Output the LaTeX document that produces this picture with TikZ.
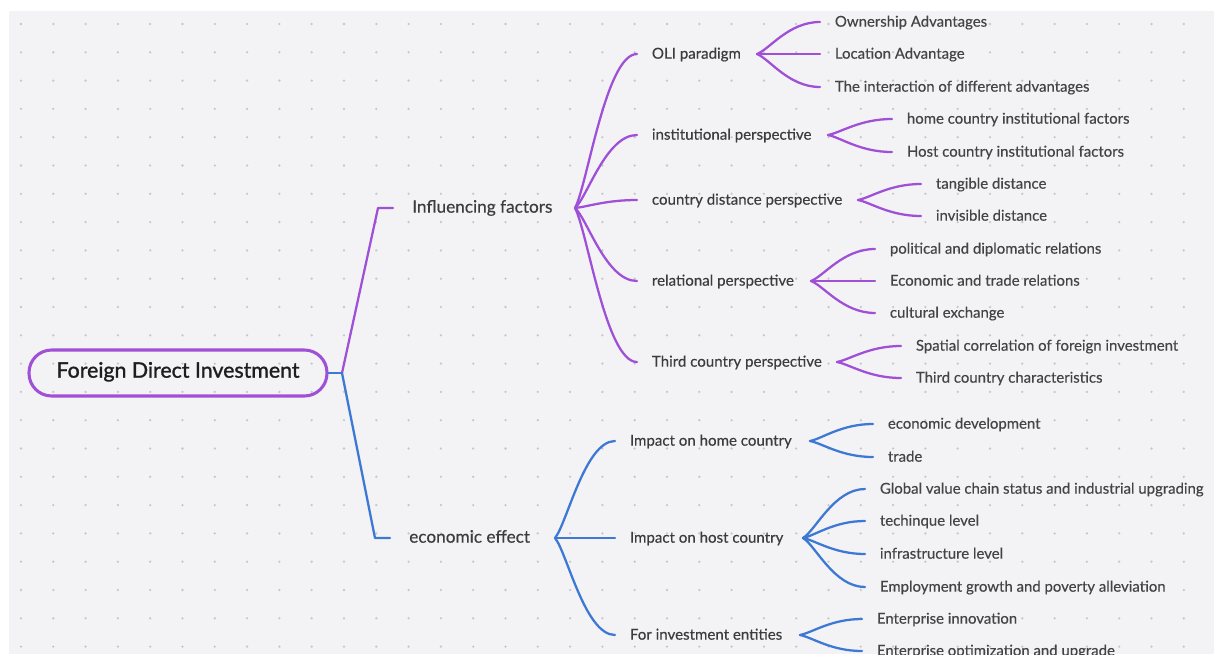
\documentclass[tikz,border=0pt]{standalone}
\usepackage{fontspec}
\setmainfont{Lato}[FakeBold=0.35]
\newfontfamily\rootfont{Lato}[FakeBold=1.3]
\usetikzlibrary{calc}
\definecolor{bgc}{HTML}{F3F3F6}
\definecolor{dotc}{HTML}{C6C6CC}
\definecolor{pur}{HTML}{A050D6}
\definecolor{blu}{HTML}{3D78D4}
\definecolor{txa}{HTML}{1E1E1E}
\definecolor{txb}{HTML}{3C3C3C}
\definecolor{txc}{HTML}{444444}
\begin{document}
\begin{tikzpicture}[x=0.75pt,y=-0.75pt,
  rootbox/.style={draw=pur,line width=2.3pt,rounded corners=17pt,minimum width=223.5pt,minimum height=34.5pt,inner sep=0pt,font=\rootfont\fontsize{16}{18}\selectfont,text=txa,text height=0.75em,text depth=0.05em},
  lvone/.style={anchor=west,inner xsep=14.25pt,inner ysep=0pt,font=\fontsize{12.9}{15}\selectfont,text=txb,text height=0.75em,text depth=0.05em},
  lvtwo/.style={anchor=west,inner xsep=11pt,inner ysep=0pt,font=\fontsize{11.3}{13}\selectfont,text=txb,text height=0.75em,text depth=0.05em},
  lvthree/.style={anchor=west,inner xsep=11pt,inner ysep=0pt,font=\fontsize{11.2}{13}\selectfont,text=txc,text height=0.75em,text depth=0.05em},
  pline/.style={draw=pur,line width=1.7pt,line cap=round,line join=round},
  bline/.style={draw=blu,line width=1.7pt,line cap=round,line join=round},
  fanc/.style={to path={let \p1=(\tikztostart), \p2=(\tikztotarget) in
     .. controls ({\x1+0.2*(\x2-\x1)},{\y1+0.15*(\y2-\y1)}) and ({\x2-0.5*(\x2-\x1)},\y2) .. (\tikztotarget)}}
]
\useasboundingbox (0,0) rectangle (1214,654);
\clip (0,0) rectangle (1214,654);
\fill[white] (0,0) rectangle (1214,654);
\fill[bgc] (9,11) rectangle (1214,654);
\foreach \i in {0,...,37}{
  \foreach \j in {0,...,22}{
    \fill[dotc] ({21+32.3*\i},{24+28.3*\j}) circle (0.95pt);
  }
}
% root
\node[rootbox] (root) at (178,373) {Foreign Direct Investment};
\coordinate (j) at (342,373);
% level 1
\node[lvone] (inf) at (393,208) {Influencing factors};
\node[lvone] (eco) at (390,538) {economic effect};
\draw[bline] (root.east) -- (j);
\draw[pline] (j) -- ([xshift=-15*0.75pt]inf.west) -- (inf.west);
\draw[bline] (j) -- ([xshift=-15*0.75pt]eco.west) -- (eco.west);
% hubs level 1
\coordinate (hinf) at (575,208);
\coordinate (heco) at (555,538);
% level 2 purple
\node[lvtwo] (oli) at (637,54) {OLI paradigm};
\node[lvtwo] (ins) at (637,135) {institutional perspective};
\node[lvtwo] (cdi) at (637,200) {country distance perspective};
\node[lvtwo] (rel) at (637,281) {relational perspective};
\node[lvtwo] (thi) at (637,362) {Third country perspective};
\foreach \nm in {oli,ins,cdi,rel,thi}{\draw[pline] (hinf) to[fanc] (\nm.west);}
% level 2 blue
\node[lvtwo] (hom) at (615,441) {Impact on home country};
\node[lvtwo] (hos) at (615,538) {Impact on host country};
\node[lvtwo] (ent) at (615,635) {For investment entities};
\foreach \nm in {hom,hos,ent}{\draw[bline] (heco) to[fanc] (\nm.west);}
% level 3 hubs
\coordinate (holi) at (757,54);
\coordinate (hins) at (828,135);
\coordinate (hcdi) at (858,200);
\coordinate (hrel) at (811,281);
\coordinate (hthi) at (837,362);
\coordinate (hhom) at (810,441);
\coordinate (hhos) at (803,538);
\coordinate (hent) at (800,635);
% level 3 purple
\node[lvthree] (o1) at (820,22) {Ownership Advantages};
\node[lvthree] (o2) at (820,54) {Location Advantage};
\node[lvthree] (o3) at (820,87) {The interaction of different advantages};
\foreach \nm in {o1,o2,o3}{\draw[pline] (holi) to[fanc] (\nm.west);}
\node[lvthree] (i1) at (892,119) {home country institutional factors};
\node[lvthree] (i2) at (892,152) {Host country institutional factors};
\foreach \nm in {i1,i2}{\draw[pline] (hins) to[fanc] (\nm.west);}
\node[lvthree] (c1) at (921,184) {tangible distance};
\node[lvthree] (c2) at (921,216) {invisible distance};
\foreach \nm in {c1,c2}{\draw[pline] (hcdi) to[fanc] (\nm.west);}
\node[lvthree] (r1) at (875,249) {political and diplomatic relations};
\node[lvthree] (r2) at (875,281) {Economic and trade relations};
\node[lvthree] (r3) at (875,313) {cultural exchange};
\foreach \nm in {r1,r2,r3}{\draw[pline] (hrel) to[fanc] (\nm.west);}
\node[lvthree] (t1) at (901,346) {Spatial correlation of foreign investment};
\node[lvthree] (t2) at (901,378) {Third country characteristics};
\foreach \nm in {t1,t2}{\draw[pline] (hthi) to[fanc] (\nm.west);}
% level 3 blue
\node[lvthree] (h1) at (873,424) {economic development};
\node[lvthree] (h2) at (873,457) {trade};
\foreach \nm in {h1,h2}{\draw[bline] (hhom) to[fanc] (\nm.west);}
\node[lvthree] (s1) at (865,489) {Global value chain status and industrial upgrading};
\node[lvthree] (s2) at (865,521) {techinque level};
\node[lvthree] (s3) at (865,554) {infrastructure level};
\node[lvthree] (s4) at (865,587) {Employment growth and poverty alleviation};
\foreach \nm in {s1,s2,s3,s4}{\draw[bline] (hhos) to[fanc] (\nm.west);}
\node[lvthree] (e1) at (862,619) {Enterprise innovation};
\node[lvthree] (e2) at (862,651) {Enterprise optimization and upgrade};
\foreach \nm in {e1,e2}{\draw[bline] (hent) to[fanc] (\nm.west);}
\end{tikzpicture}
\end{document}
